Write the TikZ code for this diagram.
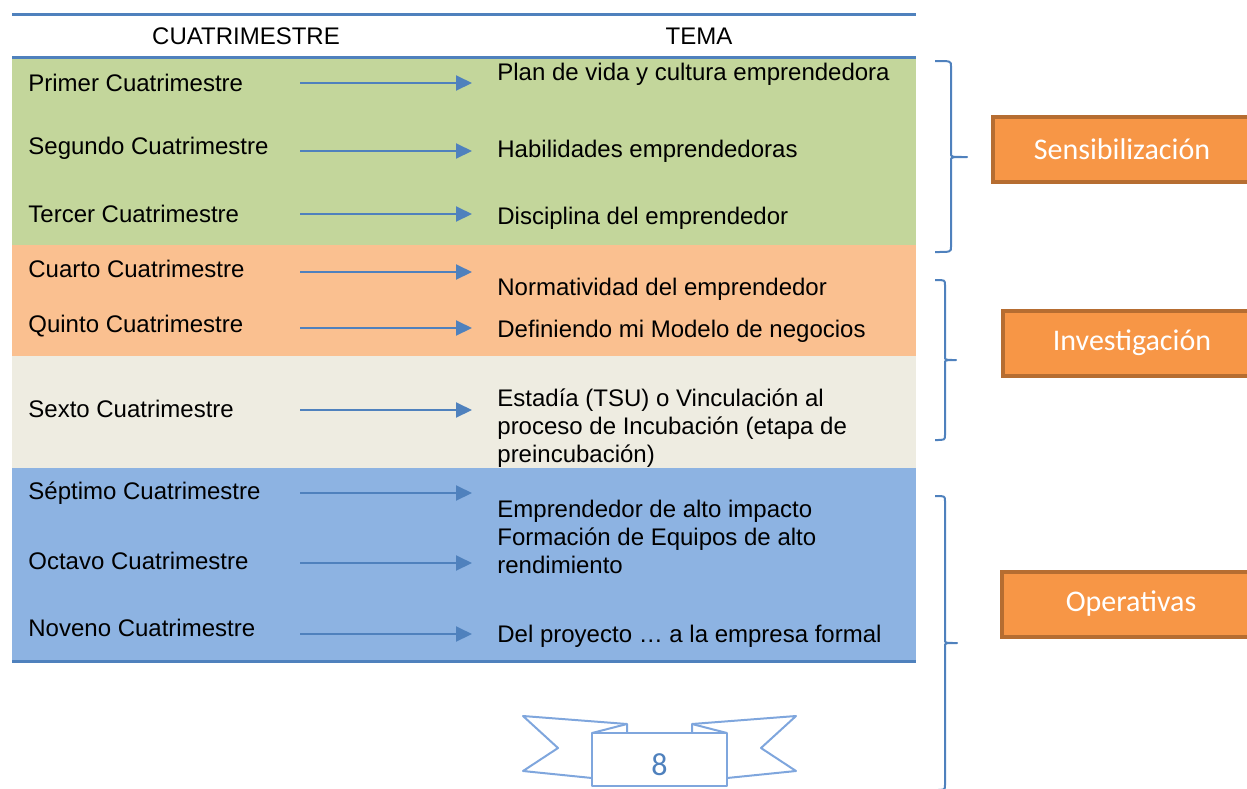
\documentclass[tikz,border=0pt]{standalone}
\usepackage{fontspec}
\setmainfont{Liberation Sans}
\newfontfamily\calibrifont{Carlito}
\usetikzlibrary{arrows.meta}
\definecolor{bandGreen}{HTML}{C3D69B}
\definecolor{bandOrange}{HTML}{FAC090}
\definecolor{bandBeige}{HTML}{EEECE1}
\definecolor{bandBlue}{HTML}{8DB3E2}
\definecolor{ruleBlue}{HTML}{4F81BD}
\definecolor{stageFill}{HTML}{F79646}
\definecolor{stageEdge}{HTML}{B66D31}
\definecolor{ribbonBlue}{HTML}{7FA6DD}

\begin{document}
\begin{tikzpicture}
[x=0.5pt,y=-0.5pt,
  ruleDecorate/.style={ruleBlue,line width=1.5pt},
  arrowDecorate/.style={-{Triangle[length=8pt,width=7.5pt]},ruleBlue,line width=1pt},
  textDecorate/.style={anchor=base west,inner sep=0pt,font=\fontsize{12}{14}\selectfont},
  blockDecorate/.style={anchor=north west,inner sep=0pt,align=left,font=\fontsize{12}{14}\selectfont},
  stageDecorate/.style={draw=stageEdge,fill=stageFill,line width=2pt,minimum width=129pt,
    minimum height=32.5pt,text=white,font=\calibrifont\fontsize{15}{18}\selectfont},
  braceDecorate/.style={ruleBlue,line width=1pt,line join=round},
  ribbonDecorate/.style={ribbonBlue,line width=1pt,line join=round}]
\useasboundingbox (0,0) rectangle (1247,788);
\clip (0,0) rectangle (1247,788);
%% colour bands of the table
\fill[bandGreen]  (12,58)  rectangle (916,245);
\fill[bandOrange] (12,245) rectangle (916,356);
\fill[bandBeige]  (12,356) rectangle (916,468);
\fill[bandBlue]   (12,468) rectangle (916,661);
\draw[ruleDecorate] (12,14) -- (916,14);
\draw[ruleDecorate] (12,57) -- (916,57);
\draw[ruleDecorate] (12,661) -- (916,661);
%% header
\node[anchor=base,inner sep=0pt,font=\fontsize{12}{14}\selectfont] (hcuatri) at (246,44) {CUATRIMESTRE};
\node[anchor=base,inner sep=0pt,font=\fontsize{12}{14}\selectfont] (htema) at (699,44) {TEMA};
%% left column
\foreach \rowname/\ly/\txt in {
  primer/91/Primer Cuatrimestre,
  segundo/154/Segundo Cuatrimestre,
  tercer/222/Tercer Cuatrimestre,
  cuarto/277/Cuarto Cuatrimestre,
  quinto/332/Quinto Cuatrimestre,
  sexto/417/Sexto Cuatrimestre,
  septimo/499/Séptimo Cuatrimestre,
  octavo/569/Octavo Cuatrimestre,
  noveno/636/Noveno Cuatrimestre}
{
  \node[textDecorate] (\rowname) at (28,\ly) {\txt};
}
%% arrows
\foreach \rowname/\ay in {primer/83,segundo/151,tercer/214,cuarto/272,quinto/328,
  sexto/410,septimo/493,octavo/563,noveno/634}
{
  \coordinate (\rowname-s) at (300,\ay);
  \coordinate (\rowname-e) at (472,\ay);
  \draw[arrowDecorate] (\rowname-s) -- (\rowname-e);
}
%% right column
\foreach \temaname/\ty/\txt in {
  plan/80/Plan de vida y cultura emprendedora,
  habilidades/157/Habilidades emprendedoras,
  disciplina/224/Disciplina del emprendedor,
  normatividad/295/Normatividad del emprendedor,
  definiendo/337/Definiendo mi Modelo de negocios,
  emprendedor/517/Emprendedor de alto impacto,
  proyecto/642/Del proyecto … a la empresa formal}
{
  \node[textDecorate] (\temaname) at (497,\ty) {\txt};
}
\node[blockDecorate] (estadia) at (497,388.5)
  {Estadía (TSU) o Vinculación al\\proceso de Incubación (etapa de\\preincubación)};
\node[blockDecorate] (formacion) at (497,527.5)
  {Formación de Equipos de alto\\rendimiento};
%% braces and stages
\foreach \bracename/\bt/\bm/\bb/\sx/\tx in {
  sens/61/157/252/951/967,
  inv/280/360/440/945/956,
  ope/496/643/790/945/957}
{
  \coordinate (\bracename-t) at (935,\bt);
  \coordinate (\bracename-m) at (\tx,\bm);
  \coordinate (\bracename-b) at (935,\bb);
  \draw[braceDecorate] (\bracename-t) .. controls (\sx,\bt) .. (\sx,\bt+5)
    -- (\sx,\bm-3) .. controls (\sx,\bm) .. (\bracename-m)
    .. controls (\sx,\bm) .. (\sx,\bm+3)
    -- (\sx,\bb-5) .. controls (\sx,\bb) .. (\bracename-b);
}
\node[stageDecorate] (sensibilizacion) at (1122,149.5) {Sensibilización};
\node[stageDecorate] (investigacion) at (1132,343) {Investigación};
\node[stageDecorate] (operativas) at (1131,604) {Operativas};
%% ribbon with page number
\draw[ribbonDecorate] (592,778) -- (523,771) -- (558,748) -- (523,716) -- (627,724) -- (627,733);
\draw[ribbonDecorate] (727,778) -- (796,771) -- (761,748) -- (796,716) -- (692,724) -- (692,733);
\draw[ribbonDecorate] (592,733) -- (627,724);
\draw[ribbonDecorate] (727,733) -- (692,724);
\draw[ribbonDecorate] (592,786) rectangle (727,733);
\node[text=ruleBlue,font=\calibrifont\fontsize{16}{18}\selectfont] (page) at (659.5,765) {8};
\end{tikzpicture}
\end{document}
